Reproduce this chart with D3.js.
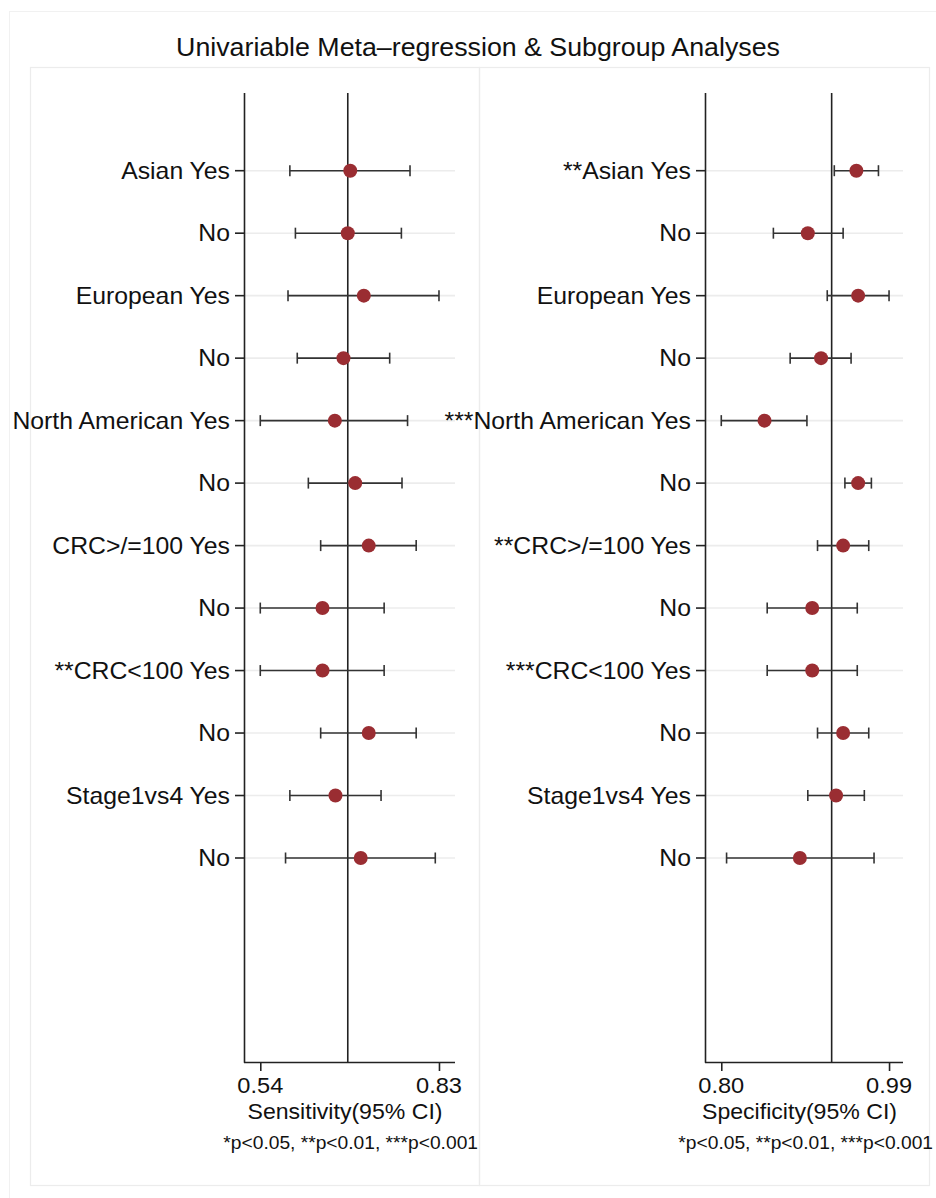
<!DOCTYPE html>
<html>
<head>
<meta charset="utf-8">
<script src="https://cdn.jsdelivr.net/npm/d3@7"></script>
<style>
  html, body { margin: 0; padding: 0; background: #fff; }
  svg { display: block; }
  text { font-family: "Liberation Sans", Arial, Helvetica, sans-serif; fill: #111; }
</style>
</head>
<body>
<svg id="chart" width="936" height="1198"></svg>
<script>
// Subgroup rows, top to bottom
const rowLabels = ["Asian Yes", "No", "European Yes", "No", "North American Yes", "No",
  "CRC>/=100 Yes", "No", "CRC<100 Yes", "No", "Stage1vs4 Yes", "No"];

// Significance markers prefixed to the row labels
const sensStars = ["", "", "", "", "", "", "", "", "**", "", "", ""];
const specStars = ["**", "", "", "", "***", "", "**", "", "***", "", "", ""];

// Sensitivity estimates with 95% CI
const sensEst   = [0.686, 0.682, 0.708, 0.675, 0.661, 0.694, 0.716, 0.641, 0.641, 0.716, 0.662, 0.703];
const sensLower = [0.588, 0.597, 0.585, 0.600, 0.540, 0.618, 0.638, 0.540, 0.540, 0.638, 0.588, 0.581];
const sensUpper = [0.783, 0.769, 0.830, 0.750, 0.779, 0.770, 0.793, 0.741, 0.741, 0.793, 0.736, 0.824];
const sensPooled = 0.682;
const sensTicks = [0.54, 0.83];

// Specificity estimates with 95% CI
const specEst   = [0.953, 0.898, 0.955, 0.913, 0.849, 0.955, 0.938, 0.903, 0.903, 0.938, 0.930, 0.889];
const specLower = [0.928, 0.859, 0.920, 0.878, 0.800, 0.940, 0.909, 0.852, 0.852, 0.909, 0.898, 0.806];
const specUpper = [0.978, 0.938, 0.990, 0.947, 0.897, 0.970, 0.967, 0.954, 0.954, 0.967, 0.962, 0.973];
const specPooled = 0.925;
const specTicks = [0.80, 0.99];

const noteText = "*p<0.05, **p<0.01, ***p<0.001";

const svg = d3.select("#chart");
const SX = 1.05;           // horizontal glyph stretch used for all text
const INK = "#222";
const DOT = "#9a2d32";

// stretched text helper: anchor point (x, y)
function label(parent, x, y, str, size, anchor) {
  const g = parent.append("g").attr("transform", `translate(${x},${y}) scale(${SX},1)`);
  g.append("text").attr("text-anchor", anchor).attr("font-size", size).text(str);
  return g;
}

// outer and panel frames
svg.append("rect").attr("x", 9.5).attr("y", 11.5).attr("width", 960).attr("height", 1220)
  .attr("fill", "none").attr("stroke", "#f1f1f1").attr("stroke-width", 1);

label(svg, 478, 56, "Univariable Meta\u2013regression & Subgroup Analyses", 25.5, "middle");

const plotTop = 93, plotBottom = 1062;
const y = d3.scaleLinear().domain([0, rowLabels.length - 1]).range([170.7, 858]);

const panels = [
  { left: 30, right: 479, axisL: 245, axisR: 455,
    domain: [0.5152, 0.856], est: sensEst, lo: sensLower, hi: sensUpper,
    pooled: sensPooled, ticks: sensTicks, stars: sensStars, title: "Sensitivity(95% CI)", note: 478 },
  { left: 479, right: 929, axisL: 706, axisR: 903,
    domain: [0.7827, 1.0058], est: specEst, lo: specLower, hi: specUpper,
    pooled: specPooled, ticks: specTicks, stars: specStars, title: "Specificity(95% CI)", note: 933 }
];

panels.forEach(p => {
  const g = svg.append("g");
  g.append("rect").attr("x", p.left + 0.5).attr("y", 67.5)
    .attr("width", p.right - p.left).attr("height", 1118)
    .attr("fill", "none").attr("stroke", "#ececec").attr("stroke-width", 1.2);

  const x = d3.scaleLinear().domain(p.domain).range([p.axisL, p.axisR]);
  const rows = d3.range(rowLabels.length);

  // horizontal grid lines
  g.append("g").selectAll("line").data(rows).join("line")
    .attr("x1", p.axisL).attr("x2", p.axisR)
    .attr("y1", i => y(i)).attr("y2", i => y(i))
    .attr("stroke", "#ececec").attr("stroke-width", 1.6);

  // y axis
  g.append("line").attr("x1", p.axisL - 0.5).attr("x2", p.axisL - 0.5)
    .attr("y1", plotTop).attr("y2", plotBottom + 0.75)
    .attr("stroke", INK).attr("stroke-width", 1.6);
  g.append("g").selectAll("line").data(rows).join("line")
    .attr("x1", p.axisL - 10).attr("x2", p.axisL)
    .attr("y1", i => y(i)).attr("y2", i => y(i))
    .attr("stroke", INK).attr("stroke-width", 1.6);
  rows.forEach(i => {
    label(g, p.axisL - 15, y(i) + 8, p.stars[i] + rowLabels[i], 23.6, "end");
  });

  // x axis
  const xAxis = d3.axisBottom(x).tickValues(p.ticks).tickSize(9)
    .tickFormat(d3.format(".2f"));
  const ax = g.append("g").attr("transform", `translate(0,${plotBottom})`).call(xAxis);
  ax.select(".domain").attr("d", `M${p.axisL - 1},0.5H${p.axisR}`)
    .attr("stroke", INK).attr("stroke-width", 1.6);
  ax.selectAll(".tick line").attr("stroke", INK).attr("stroke-width", 1.6);
  ax.selectAll(".tick text").remove();
  p.ticks.forEach(t => label(g, x(t), 1093, d3.format(".2f")(t), 22.5, "middle"));

  // pooled estimate reference line
  g.append("line").attr("x1", x(p.pooled)).attr("x2", x(p.pooled))
    .attr("y1", plotTop).attr("y2", plotBottom)
    .attr("stroke", INK).attr("stroke-width", 1.6);

  // confidence intervals with end caps
  const ci = g.append("g").attr("stroke", "#333").attr("stroke-width", 1.6);
  ci.selectAll("line.bar").data(rows).join("line").attr("class", "bar")
    .attr("x1", i => x(p.lo[i])).attr("x2", i => x(p.hi[i]))
    .attr("y1", i => y(i)).attr("y2", i => y(i));
  ci.selectAll("line.capl").data(rows).join("line").attr("class", "capl")
    .attr("x1", i => x(p.lo[i])).attr("x2", i => x(p.lo[i]))
    .attr("y1", i => y(i) - 5.5).attr("y2", i => y(i) + 5.5);
  ci.selectAll("line.capu").data(rows).join("line").attr("class", "capu")
    .attr("x1", i => x(p.hi[i])).attr("x2", i => x(p.hi[i]))
    .attr("y1", i => y(i) - 5.5).attr("y2", i => y(i) + 5.5);

  // point estimates
  g.append("g").selectAll("circle").data(rows).join("circle")
    .attr("cx", i => x(p.est[i])).attr("cy", i => y(i)).attr("r", 7)
    .attr("fill", DOT);

  label(g, (p.axisL + p.axisR) / 2 - 5, 1119, p.title, 22, "middle");
  label(g, p.note, 1149, noteText, 18.3, "end");
});
</script>
</body>
</html>
